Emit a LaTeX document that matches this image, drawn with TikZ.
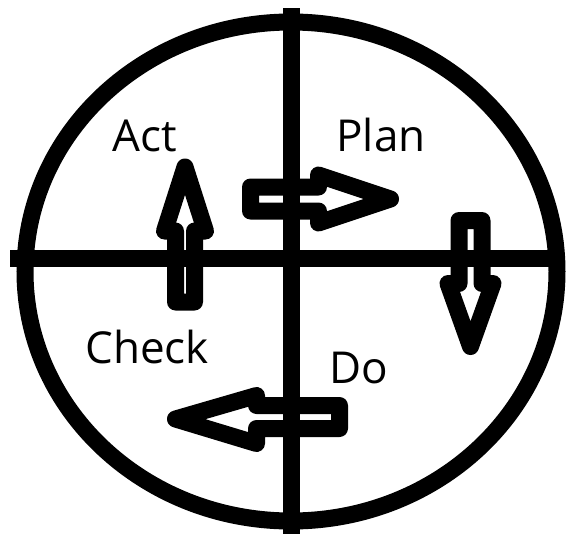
\documentclass[tikz,border=0pt]{standalone}
\usepackage{fontspec}
\setmainfont{Open Sans}

\begin{document}
\begin{tikzpicture}[x=1pt, y=-1pt, line width=17pt,
    blockarrow/.style={draw=black, line width=17pt, line join=round},
    cyclelabel/.style={font=\fontsize{44}{44}\selectfont, inner sep=0pt, anchor=base west}]
    \useasboundingbox (0,0) rectangle (566,536);

    % Outer circle
    \draw (291,271.5) ellipse (266 and 249.5);

    % Cross dividing the four phases
    \draw (291.5,8) -- (291.5,534);
    \draw (10,258.5) -- (556,258.5);

    % Phase labels
    \node[cyclelabel] (act) at (104,151) {Act};
    \node[cyclelabel] (plan) at (328,151) {Plan};
    \node[cyclelabel] (check) at (77,363) {Check};
    \node[cyclelabel] (do) at (321,383) {Do};

    % Block arrows (clockwise)
    \draw[blockarrow] (250.5,187) -- (318.5,187) -- (318.5,175) -- (390.5,199)
        -- (318.5,223) -- (318.5,211) -- (250.5,211) -- cycle; % Plan -> Do
    \draw[blockarrow] (459,220.5) -- (459,283.5) -- (448,283.5) -- (470.5,346.5)
        -- (493,283.5) -- (482,283.5) -- (482,220.5) -- cycle;   % Do -> Check
    \draw[blockarrow] (339.5,405.5) -- (256.5,405.5) -- (256.5,395.5) -- (175.5,419)
        -- (256.5,443.5) -- (256.5,428.5) -- (339.5,428.5) -- cycle; % Check -> Act
    \draw[blockarrow] (175.5,302) -- (175.5,231) -- (164.5,231) -- (185,167)
        -- (205.5,231) -- (194.5,231) -- (194.5,302) -- cycle;   % Act -> Plan
\end{tikzpicture}
\end{document}
